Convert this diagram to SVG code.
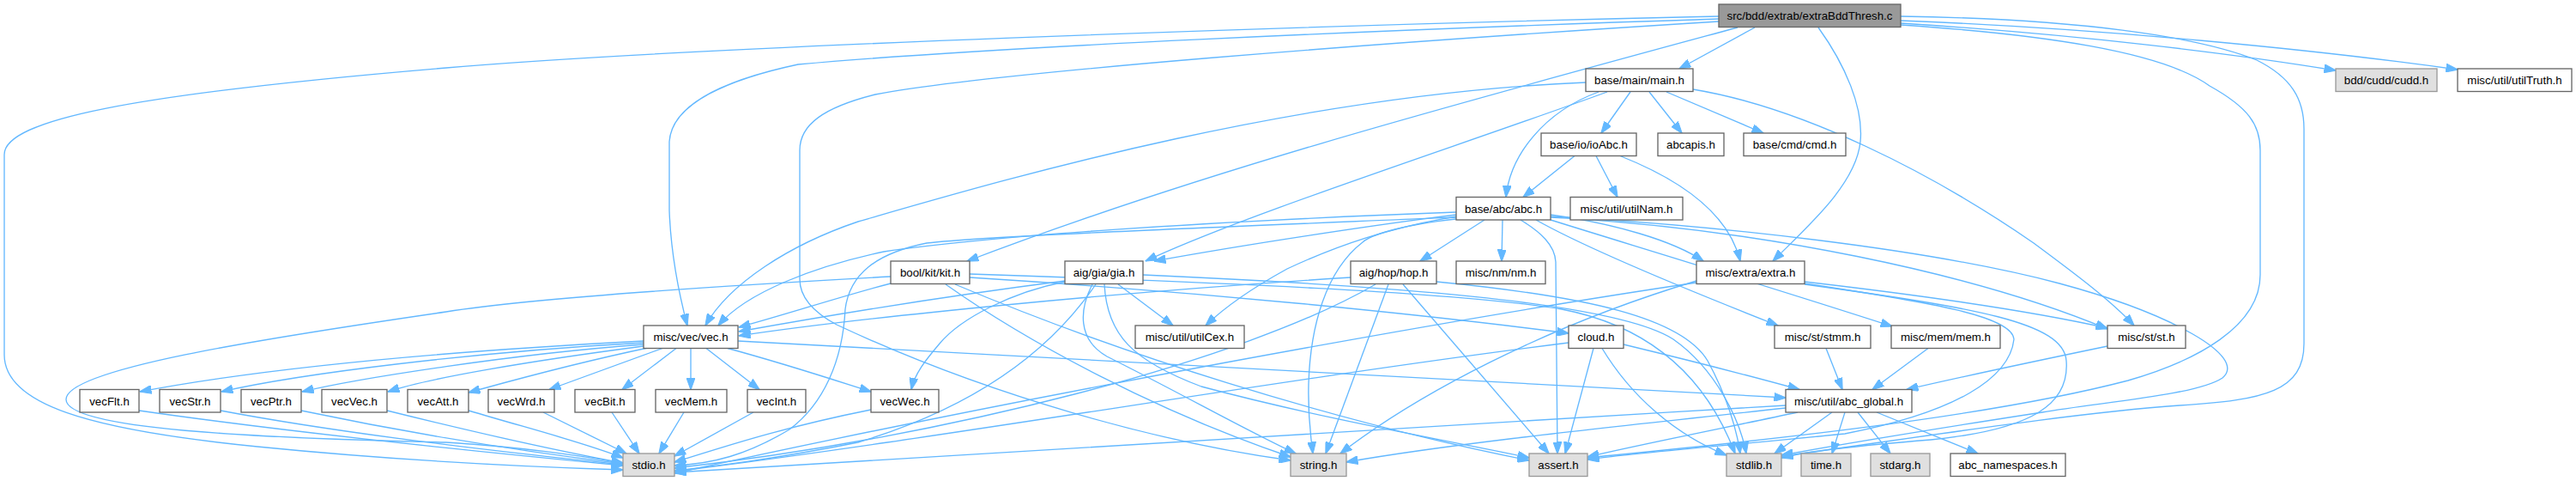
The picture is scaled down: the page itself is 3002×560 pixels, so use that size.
<svg xmlns="http://www.w3.org/2000/svg" width="3002" height="560" viewBox="0 0 3002 560">
<style>
.e{fill:none;stroke:#63b8ff;stroke-width:1.33;marker-end:url(#a)}
.n rect{fill:#fff;stroke:#666;stroke-width:1.33}
.g rect{fill:#e0e0e0;stroke:#999;stroke-width:1.33}
.r rect{fill:#999;stroke:#666;stroke-width:1.33}
text{font-family:"Liberation Sans",Arial,sans-serif;font-size:13.3px;fill:#000;text-anchor:middle}
</style>
<defs>
<marker id="a" markerUnits="userSpaceOnUse" markerWidth="14" markerHeight="10" refX="13.5" refY="5" orient="auto" viewBox="0 0 14 10">
<path d="M0,0 L14,5 L0,10 z" fill="#63b8ff" stroke="#63b8ff" stroke-width="1"/>
</marker>
</defs>
<rect width="3002" height="560" fill="#fff"/>
<g id="edges">
<path class="e" d="M2045,32 L1957,80"/>
<path class="e" d="M2215,27 C2420,40 2600,62 2722,82"/>
<path class="e" d="M2215,24 C2450,33 2700,58 2864,81"/>
<path class="e" d="M2119,32 C2150,75 2172,125 2168,165 C2163,215 2105,265 2066,304"/>
<path class="e" d="M2215,29 C2380,40 2520,60 2575,100 C2620,125 2634,145 2634,175 L2634,320 C2634,380 2560,420 2480,443 C2300,490 2000,518 1850,533"/>
<path class="e" d="M2215,19 C2420,22 2560,42 2630,70 C2670,90 2685,115 2685,150 L2685,400 C2685,455 2640,466 2540,472 C2400,482 2200,515 2076,531"/>
<path class="e" d="M2025,32 C1700,120 1400,200 1127,304"/>
<path class="e" d="M2003,22 C1600,35 1150,55 930,75 C850,92 783,120 780,165 L780,245 C782,300 792,345 801,379"/>
<path class="e" d="M2003,25 C1600,50 1150,85 1020,110 C960,125 932,145 932,175 L932,325 C932,345 945,362 975,378 C1150,460 1350,515 1504,536"/>
<path class="e" d="M2003,19 C1500,30 800,55 520,79 C150,110 5,140 5,180 L5,413 C5,470 100,500 300,520 C450,535 600,543 726,547"/>
<path class="e" d="M1863,107 C1800,130 1760,180 1755,229.5"/>
<path class="e" d="M1900,107 L1866,155"/>
<path class="e" d="M1922,107 L1960,155"/>
<path class="e" d="M1942,107 L2055,155"/>
<path class="e" d="M1873,107 C1700,170 1450,250 1335,304"/>
<path class="e" d="M1848,96 C1500,110 1150,215 1000,258 C920,285 850,330 822,379"/>
<path class="e" d="M1973,104 C2100,125 2250,200 2370,283 C2420,320 2460,350 2487,379"/>
<path class="e" d="M1835,181.5 L1775,229.5"/>
<path class="e" d="M1860,181.5 L1885,229.5"/>
<path class="e" d="M1888,181.5 C1960,210 2015,250 2028,304"/>
<path class="e" d="M1697,247 C1400,258 1150,275 1030,293 C950,310 870,340 837,379"/>
<path class="e" d="M1697,250 C1600,262 1450,285 1345,304"/>
<path class="e" d="M1697,255 C1630,262 1595,275 1588,282 C1545,315 1527,380 1525,447 C1524,490 1528,510 1530,528"/>
<path class="e" d="M1730,256 L1655,304"/>
<path class="e" d="M1751,256 L1750,304"/>
<path class="e" d="M1772,256 C1795,270 1812,285 1813,305 L1815,528"/>
<path class="e" d="M1697,252 C1620,265 1560,285 1500,313 C1460,335 1430,355 1405,379"/>
<path class="e" d="M1807,250 C1880,260 1950,280 1985,304"/>
<path class="e" d="M1790,256 C1850,290 1960,335 2072,379"/>
<path class="e" d="M1807,256 C1900,285 2050,330 2205,380"/>
<path class="e" d="M1807,253 C2050,266 2300,318 2456,383"/>
<path class="e" d="M1807,252 C2000,262 2250,290 2400,330 C2530,365 2620,415 2590,440 C2560,460 2450,468 2380,480 C2250,500 2120,522 2076,530"/>
<path class="e" d="M1697,253 C1400,265 1150,275 1080,283 C1020,295 990,320 985,360 C982,420 960,470 920,500 C870,530 830,540 786,542"/>
<path class="e" d="M1241,327 C1100,345 950,370 861,386"/>
<path class="e" d="M1241,328 C1180,340 1120,370 1095,400 C1078,420 1066,435 1062,453.5"/>
<path class="e" d="M1303,331 L1367,379"/>
<path class="e" d="M1277,331 C1230,400 1150,470 1000,515 C900,535 830,543 786,548"/>
<path class="e" d="M1273,331 C1258,360 1255,395 1290,415 C1380,460 1450,500 1510,528"/>
<path class="e" d="M1287,331 C1290,390 1320,420 1400,450 C1550,490 1700,515 1782,533"/>
<path class="e" d="M1332,320 C1600,332 1880,350 1950,395 C2000,430 2028,490 2035,528"/>
<path class="e" d="M1574,323 C1300,340 1000,370 861,391"/>
<path class="e" d="M1603,331 C1450,420 1100,510 786,545"/>
<path class="e" d="M1618,331 L1545,528"/>
<path class="e" d="M1635,331 L1805,528"/>
<path class="e" d="M1674,328 C1850,345 1960,370 1990,420 C2012,460 2024,500 2028,528"/>
<path class="e" d="M1038,322 C800,335 600,350 520,363 C300,395 77,430 77,465 C77,500 300,510 520,515 C600,520 680,530 726,540"/>
<path class="e" d="M1038,330 C980,345 920,365 861,381"/>
<path class="e" d="M1130,323 C1400,340 1650,365 1828,388"/>
<path class="e" d="M1102,331 C1200,400 1350,480 1504,532"/>
<path class="e" d="M1113,331 C1300,410 1550,490 1782,536"/>
<path class="e" d="M1130,319 C1400,328 1700,340 1820,360 C1950,385 2000,470 2022,528"/>
<path class="e" d="M1828,399 C1500,440 1100,510 786,549"/>
<path class="e" d="M1857,405.5 L1824,528"/>
<path class="e" d="M1867,405.5 C1900,460 1950,505 2012,530"/>
<path class="e" d="M1892,401 C1950,415 2030,435 2097,453.5"/>
<path class="e" d="M750,397 C500,410 300,430 163,456"/>
<path class="e" d="M750,399 C550,410 350,435 258,456"/>
<path class="e" d="M750,401 C600,412 420,440 352,456"/>
<path class="e" d="M750,403 C620,420 500,440 452,456"/>
<path class="e" d="M755,405 C660,425 590,445 546,457"/>
<path class="e" d="M772,405.5 L640,453.5"/>
<path class="e" d="M788,405.5 L725,453.5"/>
<path class="e" d="M805,405.5 L805,453.5"/>
<path class="e" d="M823,405.5 L885,453.5"/>
<path class="e" d="M848,405.5 C920,425 980,445 1015,456"/>
<path class="e" d="M860,397 C1300,420 1800,450 2081,463"/>
<path class="e" d="M162,478 C350,505 600,530 726,542"/>
<path class="e" d="M257,478 C400,505 600,528 726,541"/>
<path class="e" d="M351,478 C480,505 620,527 726,540"/>
<path class="e" d="M451,478 C560,505 650,525 726,539"/>
<path class="e" d="M546,478 C620,500 680,515 726,533"/>
<path class="e" d="M633,480 L730,528"/>
<path class="e" d="M713,480 L745,528"/>
<path class="e" d="M797,480 L768,528"/>
<path class="e" d="M878,480 L786,531"/>
<path class="e" d="M1015,477 C900,500 830,525 786,538"/>
<path class="e" d="M2135,480 L2068,528"/>
<path class="e" d="M2150,480 L2135,528"/>
<path class="e" d="M2165,480 L2203,528"/>
<path class="e" d="M2187,480 L2305,528"/>
<path class="e" d="M2081,472 C1600,500 1100,530 786,550"/>
<path class="e" d="M2081,475 C1900,495 1700,515 1569,538"/>
<path class="e" d="M2095,480 C2000,500 1900,520 1850,532"/>
<path class="e" d="M2103,328 C2250,345 2380,365 2456,382"/>
<path class="e" d="M1977,327 C1800,380 1650,460 1562,528"/>
<path class="e" d="M1977,329 C1700,370 1200,460 786,551"/>
<path class="e" d="M2103,330 C2250,352 2345,368 2347,395 C2342,440 2280,480 2150,505 C2000,520 1900,528 1850,535"/>
<path class="e" d="M2103,331 C2300,358 2405,375 2408,420 C2412,470 2370,500 2250,512 C2150,520 2100,527 2076,533"/>
<path class="e" d="M2128,405.5 L2147,453.5"/>
<path class="e" d="M2247,405.5 L2182,453.5"/>
<path class="e" d="M2456,403 C2350,425 2280,440 2222,453.5"/>
</g>
<g id="root" class="r"><rect x="2003" y="5" width="212" height="26.5"/><text x="2109" y="23">src/bdd/extrab/extraBddThresh.c</text></g>
<g id="main" class="n"><rect x="1848" y="80" width="125" height="26.5"/><text x="1910.5" y="98">base/main/main.h</text></g>
<g id="cudd" class="g"><rect x="2722" y="80" width="118" height="26.5"/><text x="2781" y="98">bdd/cudd/cudd.h</text></g>
<g id="utilTruth" class="n"><rect x="2864" y="80" width="133" height="26.5"/><text x="2930.5" y="98">misc/util/utilTruth.h</text></g>
<g id="ioAbc" class="n"><rect x="1796" y="155" width="111" height="26.5"/><text x="1851.5" y="173">base/io/ioAbc.h</text></g>
<g id="abcapis" class="n"><rect x="1932" y="155" width="77" height="26.5"/><text x="1970.5" y="173">abcapis.h</text></g>
<g id="cmd" class="n"><rect x="2032" y="155" width="119" height="26.5"/><text x="2091.5" y="173">base/cmd/cmd.h</text></g>
<g id="abc" class="n"><rect x="1697" y="229.5" width="110" height="26.5"/><text x="1752" y="247.5">base/abc/abc.h</text></g>
<g id="utilNam" class="n"><rect x="1830" y="229.5" width="131" height="26.5"/><text x="1895.5" y="247.5">misc/util/utilNam.h</text></g>
<g id="kit" class="n"><rect x="1038" y="304" width="92" height="26.5"/><text x="1084" y="322">bool/kit/kit.h</text></g>
<g id="gia" class="n"><rect x="1241" y="304" width="91" height="26.5"/><text x="1286.5" y="322">aig/gia/gia.h</text></g>
<g id="hop" class="n"><rect x="1574" y="304" width="100" height="26.5"/><text x="1624" y="322">aig/hop/hop.h</text></g>
<g id="nm" class="n"><rect x="1697" y="304" width="104" height="26.5"/><text x="1749" y="322">misc/nm/nm.h</text></g>
<g id="extra" class="n"><rect x="1977" y="304" width="126" height="26.5"/><text x="2040" y="322">misc/extra/extra.h</text></g>
<g id="vec" class="n"><rect x="750" y="379" width="110" height="26.5"/><text x="805" y="397">misc/vec/vec.h</text></g>
<g id="utilCex" class="n"><rect x="1323" y="379" width="127" height="26.5"/><text x="1386.5" y="397">misc/util/utilCex.h</text></g>
<g id="cloud" class="n"><rect x="1828" y="379" width="64" height="26.5"/><text x="1860" y="397">cloud.h</text></g>
<g id="stmm" class="n"><rect x="2068" y="379" width="112" height="26.5"/><text x="2124" y="397">misc/st/stmm.h</text></g>
<g id="mem" class="n"><rect x="2204" y="379" width="127" height="26.5"/><text x="2267.5" y="397">misc/mem/mem.h</text></g>
<g id="st" class="n"><rect x="2456" y="379" width="91" height="26.5"/><text x="2501.5" y="397">misc/st/st.h</text></g>
<g id="vecFlt" class="n"><rect x="93" y="453.5" width="69" height="26.5"/><text x="127.5" y="471.5">vecFlt.h</text></g>
<g id="vecStr" class="n"><rect x="186" y="453.5" width="71" height="26.5"/><text x="221.5" y="471.5">vecStr.h</text></g>
<g id="vecPtr" class="n"><rect x="281" y="453.5" width="70" height="26.5"/><text x="316" y="471.5">vecPtr.h</text></g>
<g id="vecVec" class="n"><rect x="375" y="453.5" width="76" height="26.5"/><text x="413" y="471.5">vecVec.h</text></g>
<g id="vecAtt" class="n"><rect x="475" y="453.5" width="71" height="26.5"/><text x="510.5" y="471.5">vecAtt.h</text></g>
<g id="vecWrd" class="n"><rect x="569" y="453.5" width="77" height="26.5"/><text x="607.5" y="471.5">vecWrd.h</text></g>
<g id="vecBit" class="n"><rect x="670" y="453.5" width="70" height="26.5"/><text x="705" y="471.5">vecBit.h</text></g>
<g id="vecMem" class="n"><rect x="764" y="453.5" width="83" height="26.5"/><text x="805.5" y="471.5">vecMem.h</text></g>
<g id="vecInt" class="n"><rect x="871" y="453.5" width="68" height="26.5"/><text x="905" y="471.5">vecInt.h</text></g>
<g id="vecWec" class="n"><rect x="1015" y="453.5" width="79" height="26.5"/><text x="1054.5" y="471.5">vecWec.h</text></g>
<g id="abc_global" class="n"><rect x="2081" y="453.5" width="147" height="26.5"/><text x="2154.5" y="471.5">misc/util/abc_global.h</text></g>
<g id="stdio" class="g"><rect x="726" y="528" width="60" height="26.5"/><text x="756" y="546">stdio.h</text></g>
<g id="string" class="g"><rect x="1504" y="528" width="65" height="26.5"/><text x="1536.5" y="546">string.h</text></g>
<g id="assert" class="g"><rect x="1782" y="528" width="68" height="26.5"/><text x="1816" y="546">assert.h</text></g>
<g id="stdlib" class="g"><rect x="2012" y="528" width="64" height="26.5"/><text x="2044" y="546">stdlib.h</text></g>
<g id="time" class="g"><rect x="2099" y="528" width="58" height="26.5"/><text x="2128" y="546">time.h</text></g>
<g id="stdarg" class="g"><rect x="2180" y="528" width="69" height="26.5"/><text x="2214.5" y="546">stdarg.h</text></g>
<g id="abc_namespaces" class="n"><rect x="2273" y="528" width="134" height="26.5"/><text x="2340" y="546">abc_namespaces.h</text></g>
</svg>
